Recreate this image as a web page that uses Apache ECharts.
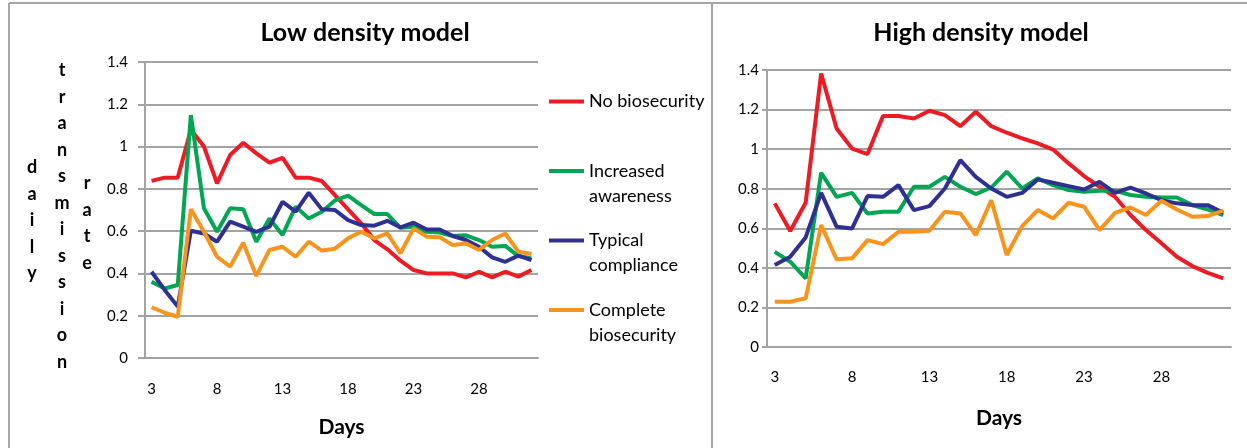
<!DOCTYPE html>
<html>
<head>
<meta charset="utf-8">
<script src="https://cdn.jsdelivr.net/npm/echarts@6/dist/echarts.min.js"></script>
<style>
html,body{margin:0;padding:0;background:#fff;}
#chart{width:1247px;height:448px;}
</style>
</head>
<body>
<div id="chart"></div>
<script>
const days = [3,4,5,6,7,8,9,10,11,12,13,14,15,16,17,18,19,20,21,22,23,24,25,26,27,28,29,30,31,32];
const seriesNames = ['No biosecurity','Increased awareness','Typical compliance','Complete biosecurity'];
const legendLabels = ['No biosecurity','Increased\nawareness','Typical\ncompliance','Complete\nbiosecurity'];
const colors = ['#ED1C24','#00A651','#2E3192','#F7941D'];

const lowNo = [0.838,0.853,0.853,1.08,1.0,0.826,0.96,1.018,0.968,0.924,0.947,0.853,0.853,0.837,0.77,0.703,0.637,0.558,0.514,0.46,0.416,0.40,0.40,0.40,0.381,0.408,0.381,0.408,0.385,0.416];
const lowAware = [0.361,0.329,0.345,1.149,0.708,0.597,0.708,0.703,0.55,0.66,0.582,0.716,0.66,0.692,0.745,0.768,0.723,0.681,0.681,0.616,0.621,0.597,0.593,0.577,0.58,0.558,0.526,0.53,0.482,0.471];
const lowTypical = [0.408,0.322,0.243,0.602,0.589,0.55,0.645,0.621,0.597,0.621,0.739,0.692,0.782,0.703,0.70,0.652,0.629,0.626,0.649,0.618,0.64,0.608,0.608,0.577,0.558,0.526,0.476,0.455,0.484,0.463];
const lowComplete = [0.24,0.214,0.195,0.703,0.597,0.479,0.432,0.545,0.388,0.511,0.526,0.479,0.55,0.508,0.517,0.566,0.597,0.566,0.589,0.495,0.613,0.574,0.571,0.534,0.542,0.511,0.558,0.589,0.503,0.492];

const highNo = [0.726,0.586,0.729,1.382,1.104,1.003,0.975,1.167,1.167,1.155,1.194,1.172,1.116,1.189,1.116,1.083,1.054,1.029,0.998,0.928,0.864,0.81,0.759,0.667,0.591,0.524,0.456,0.409,0.375,0.347];
const highAware = [0.481,0.431,0.347,0.88,0.759,0.779,0.675,0.684,0.684,0.81,0.81,0.86,0.81,0.773,0.806,0.886,0.801,0.852,0.818,0.793,0.785,0.79,0.79,0.768,0.759,0.756,0.756,0.717,0.695,0.667];
const highTypical = [0.414,0.456,0.554,0.779,0.608,0.599,0.763,0.759,0.818,0.692,0.712,0.801,0.944,0.86,0.801,0.759,0.779,0.847,0.83,0.813,0.796,0.835,0.779,0.806,0.776,0.742,0.726,0.717,0.717,0.678];
const highComplete = [0.229,0.229,0.246,0.616,0.443,0.448,0.54,0.52,0.582,0.582,0.588,0.684,0.675,0.566,0.742,0.465,0.611,0.692,0.65,0.729,0.709,0.591,0.678,0.705,0.667,0.739,0.695,0.658,0.662,0.689];

const lowData = [lowNo, lowAware, lowTypical, lowComplete];
const highData = [highNo, highAware, highTypical, highComplete];

const FONT = 'Lato, "Open Sans", sans-serif';
const gridColor = '#a3a3a3';

function xAxisFor(gridIndex, margin, nameGap) {
  return {
    type: 'category', gridIndex: gridIndex, data: days, boundaryGap: true,
    axisLine: {lineStyle: {color: gridColor, width: 2}},
    axisTick: {show: false},
    axisLabel: {interval: 4, margin: margin, color: '#000', fontSize: 15, fontFamily: FONT},
    name: 'Days', nameLocation: 'middle', nameGap: nameGap,
    nameTextStyle: {fontSize: 21, fontWeight: 'bold', color: '#000', fontFamily: FONT}
  };
}
function yAxisFor(gridIndex, tickLen, margin) {
  return {
    type: 'value', gridIndex: gridIndex, min: 0, max: 1.4, interval: 0.2,
    axisLine: {show: true, lineStyle: {color: gridColor, width: 2}},
    axisTick: {show: true, length: tickLen, lineStyle: {color: gridColor, width: 2}},
    splitLine: {lineStyle: {color: gridColor, width: 2}},
    axisLabel: {margin: margin, color: '#000', fontSize: 15, fontFamily: FONT}
  };
}

const series = [];
seriesNames.forEach(function (n, k) {
  series.push({name: n, type: 'line', xAxisIndex: 0, yAxisIndex: 0, data: lowData[k],
    showSymbol: false, symbol: 'none', color: colors[k], lineStyle: {width: 4, color: colors[k]}, animation: false});
});
seriesNames.forEach(function (n, k) {
  series.push({name: n, type: 'line', xAxisIndex: 1, yAxisIndex: 1, data: highData[k],
    showSymbol: false, symbol: 'none', color: colors[k], lineStyle: {width: 4, color: colors[k]}, animation: false});
});

const yLetters = function (w) { return w.split('').join('\n'); };
const letterStyle = function (w) {
  return {text: yLetters(w), font: 'bold 18px ' + FONT, lineHeight: 26.5, fill: '#000', align: 'center', verticalAlign: 'top'};
};

const option = {
  backgroundColor: '#fff',
  animation: false,
  title: [
    {text: 'Low density model', left: 365, top: 20, textAlign: 'center', padding: 0,
      textStyle: {fontSize: 25, fontWeight: 'bold', color: '#000', fontFamily: FONT}},
    {text: 'High density model', left: 981, top: 20, textAlign: 'center', padding: 0,
      textStyle: {fontSize: 25, fontWeight: 'bold', color: '#000', fontFamily: FONT}}
  ],
  grid: [
    {left: 145, right: 709, top: 62, bottom: 90, containLabel: false},
    {left: 767, right: 16, top: 70, bottom: 101, containLabel: false}
  ],
  xAxis: [xAxisFor(0, 24, 59), xAxisFor(1, 23, 61)],
  yAxis: [yAxisFor(0, 7, 17), yAxisFor(1, 5, 8)],
  legend: {
    orient: 'vertical', left: 549, top: 89, padding: 0, itemWidth: 35, itemHeight: 50, itemGap: 19.5,
    symbolKeepAspect: false,
    icon: 'path://M0,0M0,10.5h35v4h-35zM35,50',
    itemStyle: {borderWidth: 0},
    data: seriesNames,
    formatter: function (name) {
      const lbl = legendLabels[seriesNames.indexOf(name)];
      return lbl.indexOf('\n') < 0 ? lbl + '\n ' : lbl;
    },
    textStyle: {fontSize: 18, lineHeight: 25, color: '#000', fontFamily: FONT},
    selectedMode: false
  },
  graphic: [
    {type: 'line', shape: {x1: 9, y1: 3, x2: 1247, y2: 3}, style: {stroke: '#a6a6a6', lineWidth: 2}, silent: true},
    {type: 'line', shape: {x1: 9, y1: 3, x2: 9, y2: 448}, style: {stroke: '#a6a6a6', lineWidth: 2}, silent: true},
    {type: 'line', shape: {x1: 712, y1: 3, x2: 712, y2: 448}, style: {stroke: '#a6a6a6', lineWidth: 2}, silent: true},
    {type: 'text', x: 32, y: 154, style: letterStyle('daily'), silent: true},
    {type: 'text', x: 62, y: 57, style: letterStyle('transmission'), silent: true},
    {type: 'text', x: 87, y: 170, style: letterStyle('rate'), silent: true}
  ],
  series: series
};

const chart = echarts.init(document.getElementById('chart'), null, {renderer: 'canvas'});
chart.setOption(option);
</script>
</body>
</html>
